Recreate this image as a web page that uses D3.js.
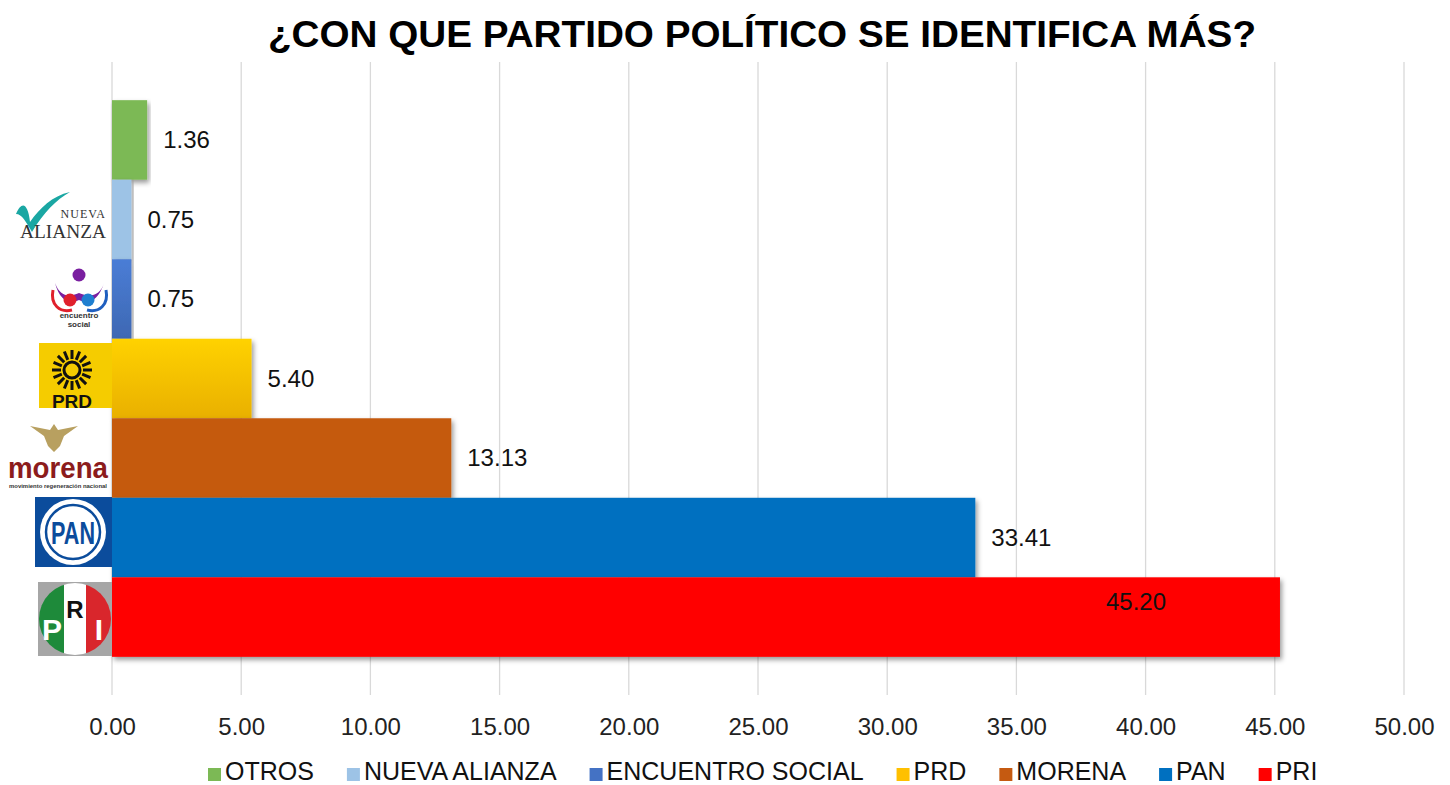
<!DOCTYPE html>
<html>
<head>
<meta charset="utf-8">
<script src="https://cdnjs.cloudflare.com/ajax/libs/d3/7.8.5/d3.min.js"></script>
<style>
  body { margin: 0; background: #fff; }
  text { font-family: "Liberation Sans", Arial, sans-serif; }
</style>
</head>
<body>
<div id="chart"></div>
<script>
const categories = ["OTROS", "NUEVA ALIANZA", "ENCUENTRO SOCIAL", "PRD", "MORENA", "PAN", "PRI"]
const values = [1.36, 0.75, 0.75, 5.40, 13.13, 33.41, 45.20]
const colors = ["#7cb955", "#9dc3e6", "#4472c4", "#ffc000", "#c55a11", "#0070c0", "#ff0000"]
const xTicks = [0, 5, 10, 15, 20, 25, 30, 35, 40, 45, 50]
const title = "¿CON QUE PARTIDO POLÍTICO SE IDENTIFICA MÁS?"

const width = 1450, height = 785
const plot = {left: 112, right: 1404, top: 62, bottom: 695}

const xScale = d3.scaleLinear().domain([0, 50]).range([plot.left, plot.right])
const yScale = d3.scaleBand().domain(categories).range([plot.top, plot.bottom])
    .paddingInner(0).paddingOuter(0.48)

const svg = d3.select("#chart").append("svg")
    .attr("width", width)
    .attr("height", height)

const defs = svg.append("defs")
const shadow = defs.append("filter").attr("id", "shadow")
    .attr("x", "-5%").attr("y", "-10%").attr("width", "115%").attr("height", "130%")
shadow.append("feDropShadow")
    .attr("dx", 2).attr("dy", 3).attr("stdDeviation", 2.5)
    .attr("flood-color", "#000").attr("flood-opacity", 0.4)

// light vertical gradients like the office-style bars
categories.forEach((c, i) => {
    const base = d3.color(colors[i])
    const grad = defs.append("linearGradient").attr("id", "grad" + i)
        .attr("x1", 0).attr("y1", 0).attr("x2", 0).attr("y2", 1)
    const soft = (c === "PRD" || c === "ENCUENTRO SOCIAL")
    grad.append("stop").attr("offset", "0%").attr("stop-color", soft ? base.brighter(0.25) : base)
    grad.append("stop").attr("offset", "100%").attr("stop-color", soft ? base.darker(0.25) : base)
})

// title
svg.append("text")
    .attr("x", 762).attr("y", 47)
    .attr("text-anchor", "middle")
    .style("font-size", "37px").style("font-weight", "bold")
    .attr("textLength", 988).attr("lengthAdjust", "spacingAndGlyphs")
    .text(title)

// grid
svg.append("g").selectAll("line")
    .data(xTicks)
    .enter().append("line")
    .attr("x1", d => xScale(d)).attr("x2", d => xScale(d))
    .attr("y1", plot.top).attr("y2", plot.bottom)
    .attr("stroke", "#d9d9d9").attr("stroke-width", 1.3)

// x axis labels
const xAxis = svg.append("g")
    .attr("transform", "translate(0," + (plot.bottom + 14) + ")")
    .call(d3.axisBottom(xScale).tickValues(xTicks).tickFormat(d3.format(".2f")).tickSize(0))
xAxis.select(".domain").remove()
xAxis.selectAll("text")
    .style("font-size", "24px").style("font-family", "'Liberation Sans', Arial, sans-serif")
    .attr("fill", "#222").attr("dy", "0.95em")

// bars
svg.append("g").selectAll("rect")
    .data(categories)
    .enter().append("rect")
    .attr("x", xScale(0))
    .attr("y", d => yScale(d))
    .attr("width", (d, i) => xScale(values[i]) - xScale(0))
    .attr("height", yScale.bandwidth())
    .attr("fill", (d, i) => "url(#grad" + i + ")")
    .attr("filter", "url(#shadow)")

// value labels
svg.append("g").selectAll("text")
    .data(categories)
    .enter().append("text")
    .attr("x", (d, i) => d === "PRI" ? xScale(values[i]) - 174 : xScale(values[i]) + 16)
    .attr("y", d => d === "PRI" ? yScale(d) + 24 : yScale(d) + yScale.bandwidth() / 2)
    .attr("dy", "0.35em")
    .style("font-size", "24px")
    .attr("fill", "#111")
    .text((d, i) => d3.format(".2f")(values[i]))

// party logos, drawn as simple shapes left of the bars
const logos = svg.append("g")

function logoNueva(g) {
    g.append("path")
        .attr("d", "M16,214 C22,200 28,204 30,222 C40,208 52,196 70,192 C56,200 44,212 32,232 C26,222 22,214 16,214 Z")
        .attr("fill", "#1aa7a3")
    g.append("text").attr("x", 106).attr("y", 218).attr("text-anchor", "end")
        .style("font-family", "'Liberation Serif', serif").style("font-size", "12px")
        .attr("fill", "#333").attr("letter-spacing", "1").text("NUEVA")
    g.append("text").attr("x", 106).attr("y", 238).attr("text-anchor", "end")
        .style("font-family", "'Liberation Serif', serif").style("font-size", "19px")
        .attr("fill", "#333").attr("textLength", 86).attr("lengthAdjust", "spacingAndGlyphs").text("ALIANZA")
}

function logoEncuentro(g) {
    g.append("path")
        .attr("d", "M55,283 C60,302 70,304 79,300 C88,304 98,302 104,283 C100,296 90,298 79,293 C68,298 60,296 55,283 Z")
        .attr("fill", "#7a1fa0")
    g.append("circle").attr("cx", 79).attr("cy", 275).attr("r", 6.5).attr("fill", "#7a1fa0")
    g.append("path").attr("d", "M53,290 C50,305 60,313 72,310").attr("fill", "none")
        .attr("stroke", "#e0202c").attr("stroke-width", 3)
    g.append("path").attr("d", "M106,290 C109,305 99,313 87,310").attr("fill", "none")
        .attr("stroke", "#1f5fbf").attr("stroke-width", 3)
    g.append("circle").attr("cx", 70).attr("cy", 300).attr("r", 6.5).attr("fill", "#e0202c")
    g.append("circle").attr("cx", 88).attr("cy", 300).attr("r", 6.5).attr("fill", "#1f7fd0")
    g.append("text").attr("x", 79).attr("y", 318).attr("text-anchor", "middle")
        .style("font-size", "8px").style("font-weight", "bold").attr("fill", "#333").text("encuentro")
    g.append("text").attr("x", 79).attr("y", 327).attr("text-anchor", "middle")
        .style("font-size", "8px").style("font-weight", "bold").attr("fill", "#333").text("social")
}

function logoPRD(g) {
    g.append("rect").attr("x", 39).attr("y", 343).attr("width", 73).attr("height", 65).attr("fill", "#f5cc00")
    const cx = 72, cy = 370
    d3.range(16).forEach(k => {
        const a = k * Math.PI / 8
        g.append("line")
            .attr("x1", cx + Math.cos(a) * 11).attr("y1", cy + Math.sin(a) * 11)
            .attr("x2", cx + Math.cos(a) * 20).attr("y2", cy + Math.sin(a) * 20)
            .attr("stroke", "#111").attr("stroke-width", 3)
    })
    g.append("circle").attr("cx", cx).attr("cy", cy).attr("r", 8)
        .attr("fill", "none").attr("stroke", "#111").attr("stroke-width", 3)
    g.append("text").attr("x", 72).attr("y", 408).attr("text-anchor", "middle")
        .style("font-size", "19px").style("font-weight", "bold").attr("fill", "#111").text("PRD")
}

function logoMorena(g) {
    g.append("path")
        .attr("d", "M30,426 L50,430 L54,424 L58,430 L78,426 L64,436 L60,446 L54,452 L48,446 L44,436 Z")
        .attr("fill", "#b8a060")
    g.append("text").attr("x", 58).attr("y", 478).attr("text-anchor", "middle")
        .style("font-size", "30px").style("font-weight", "bold").attr("fill", "#8c1c1c")
        .attr("textLength", 100).attr("lengthAdjust", "spacingAndGlyphs").text("morena")
    g.append("text").attr("x", 58).attr("y", 488).attr("text-anchor", "middle")
        .style("font-size", "6px").style("font-weight", "bold").attr("fill", "#333")
        .attr("textLength", 98).attr("lengthAdjust", "spacingAndGlyphs").text("movimiento regeneración nacional")
}

function logoPAN(g) {
    g.append("rect").attr("x", 35).attr("y", 497).attr("width", 77).attr("height", 70).attr("fill", "#0b4c9c")
    g.append("circle").attr("cx", 73).attr("cy", 532).attr("r", 33).attr("fill", "#fff")
    g.append("circle").attr("cx", 73).attr("cy", 532).attr("r", 27).attr("fill", "#fff")
        .attr("stroke", "#0b4c9c").attr("stroke-width", 2.5)
    g.append("text").attr("x", 73).attr("y", 544).attr("text-anchor", "middle")
        .style("font-size", "32px").style("font-weight", "bold").attr("fill", "#0b4c9c")
        .attr("textLength", 44).attr("lengthAdjust", "spacingAndGlyphs").text("PAN")
}

function logoPRI(g) {
    g.append("rect").attr("x", 38).attr("y", 582).attr("width", 74).attr("height", 74).attr("fill", "#a6a6a6")
    const clip = defs.append("clipPath").attr("id", "priClip")
    clip.append("circle").attr("cx", 75).attr("cy", 619).attr("r", 36)
    const inner = g.append("g").attr("clip-path", "url(#priClip)")
    inner.append("rect").attr("x", 38).attr("y", 582).attr("width", 26).attr("height", 74).attr("fill", "#1e8a3a")
    inner.append("rect").attr("x", 64).attr("y", 582).attr("width", 22).attr("height", 74).attr("fill", "#fff")
    inner.append("rect").attr("x", 86).attr("y", 582).attr("width", 26).attr("height", 74).attr("fill", "#d9262c")
    g.append("text").attr("x", 52).attr("y", 640).attr("text-anchor", "middle")
        .style("font-size", "30px").style("font-weight", "bold").attr("fill", "#fff").text("P")
    g.append("text").attr("x", 75).attr("y", 618).attr("text-anchor", "middle")
        .style("font-size", "24px").style("font-weight", "bold").attr("fill", "#111").text("R")
    g.append("text").attr("x", 99).attr("y", 640).attr("text-anchor", "middle")
        .style("font-size", "30px").style("font-weight", "bold").attr("fill", "#fff").text("I")
}

logoNueva(logos.append("g"))
logoEncuentro(logos.append("g"))
logoPRD(logos.append("g"))
logoMorena(logos.append("g"))
logoPAN(logos.append("g"))
logoPRI(logos.append("g"))

// legend
const legend = svg.append("g")
let lx = 208
categories.forEach((c, i) => {
    const item = legend.append("g").attr("transform", "translate(" + lx + ",780)")
    item.append("rect").attr("x", 0).attr("y", -12).attr("width", 13).attr("height", 13).attr("fill", colors[i])
    const t = item.append("text").attr("x", 17)
        .style("font-size", "25px").attr("fill", "#111").text(c)
    lx += 17 + t.node().getComputedTextLength() + 33
})
</script>
</body>
</html>
